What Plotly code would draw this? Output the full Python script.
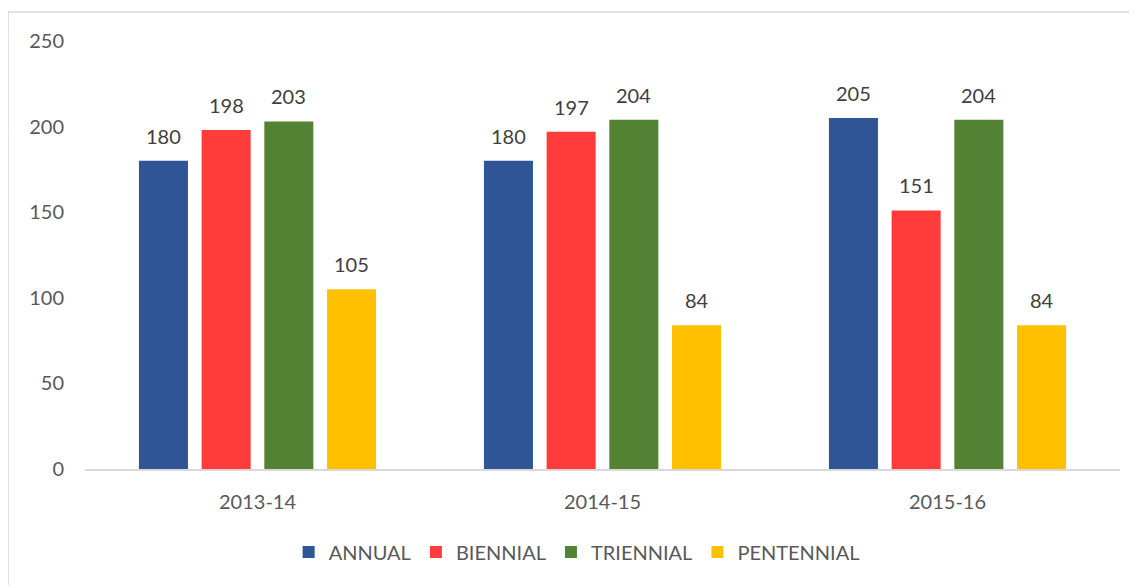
import plotly.graph_objects as go

categories = ["2013-14", "2014-15", "2015-16"]
series_names = ["ANNUAL", "BIENNIAL", "TRIENNIAL", "PENTENNIAL"]
annual = [180, 180, 205]
biennial = [198, 197, 151]
triennial = [203, 204, 204]
pentennial = [105, 84, 84]
colors = ["#2F5597", "#FF3B3B", "#548235", "#FFC000"]
y_ticks = [0, 50, 100, 150, 200, 250]

series_values = [annual, biennial, triennial, pentennial]

FONT = "Lato"
BARGAP = 0.273
BARGROUPGAP = 0.218

fig = go.Figure()
for name, vals, col in zip(series_names, series_values, colors):
    fig.add_trace(go.Bar(
        name=name, x=categories, y=vals,
        marker=dict(color=col, line=dict(width=0)),
    ))

# value labels above each bar
n = len(series_names)
slot = (1 - BARGAP) / n
annotations = []
for k, vals in enumerate(series_values):
    for i, v in enumerate(vals):
        annotations.append(dict(
            x=i + (k - (n - 1) / 2) * slot, y=v, xref="x", yref="y",
            text=str(v), showarrow=False, yanchor="middle", yshift=25,
            font=dict(family=FONT, size=20, color="#404040"),
        ))

fig.update_layout(
    width=1129, height=577,
    margin=dict(l=77, r=17, t=33, b=116),
    paper_bgcolor="white", plot_bgcolor="white",
    barmode="group", bargap=BARGAP, bargroupgap=BARGROUPGAP,
    font=dict(family=FONT, size=20, color="#595959"),
    showlegend=True,
    legend=dict(orientation="h", x=0.475, xanchor="center", y=-0.194, yanchor="middle",
                font=dict(family=FONT, size=20, color="#595959"),
                traceorder="normal", itemwidth=30),
    annotations=annotations,
    shapes=[dict(type="rect", xref="paper", yref="paper",
                 x0=-0.0744, x1=1.06, y0=-0.31, y1=1.0678,
                 line=dict(color="#D9D9D9", width=1.5), fillcolor="rgba(0,0,0,0)", layer="below")],
    xaxis=dict(showline=True, linecolor="#D9D9D9", linewidth=1.5, showgrid=False,
               ticks="", ticklabelstandoff=14,
               tickfont=dict(family=FONT, size=20, color="#595959")),
    yaxis=dict(range=[0, 250], tickvals=y_ticks, showgrid=False, zeroline=False,
               showline=False, ticks="", ticklabelstandoff=20,
               tickfont=dict(family=FONT, size=20, color="#595959")),
)

fig.write_html("out.html")
